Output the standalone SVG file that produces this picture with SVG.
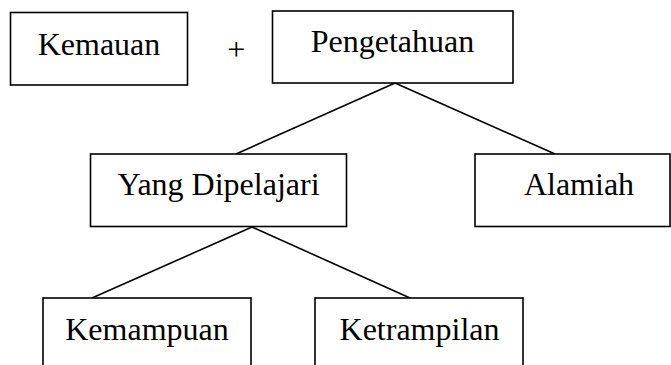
<svg xmlns="http://www.w3.org/2000/svg" width="671" height="365" viewBox="0 0 671 365">
<style>
rect{fill:#fff;stroke:#000;stroke-width:1.6}
text{font-family:"Liberation Serif","Times New Roman",serif;font-size:32px;fill:#000;text-anchor:middle}
#connectors line{stroke:#000;stroke-width:1.6}
</style>
<rect x="0" y="0" width="671" height="365" style="stroke:none"/>
<g id="connectors">
<line x1="395" y1="83" x2="236" y2="154"/>
<line x1="395" y1="83" x2="555" y2="154"/>
<line x1="252" y1="227" x2="92" y2="298"/>
<line x1="252" y1="227" x2="410" y2="298"/>
</g>
<g id="kemauan"><rect x="10.5" y="12.5" width="177" height="72.5"/><text x="99" y="54.5">Kemauan</text></g>
<g id="plus"><text x="236.3" y="60">+</text></g>
<g id="pengetahuan"><rect x="272.5" y="11" width="240.5" height="72"/><text x="392.5" y="52">Pengetahuan</text></g>
<g id="yang-dipelajari"><rect x="90.5" y="154" width="256" height="72.5"/><text x="218.5" y="195">Yang Dipelajari</text></g>
<g id="alamiah"><rect x="475" y="154" width="195" height="72.5"/><text x="579" y="195">Alamiah</text></g>
<g id="kemampuan"><rect x="43" y="298" width="208" height="80"/><text x="147" y="340">Kemampuan</text></g>
<g id="ketrampilan"><rect x="315" y="298" width="208" height="80"/><text x="419.5" y="340">Ketrampilan</text></g>
</svg>
